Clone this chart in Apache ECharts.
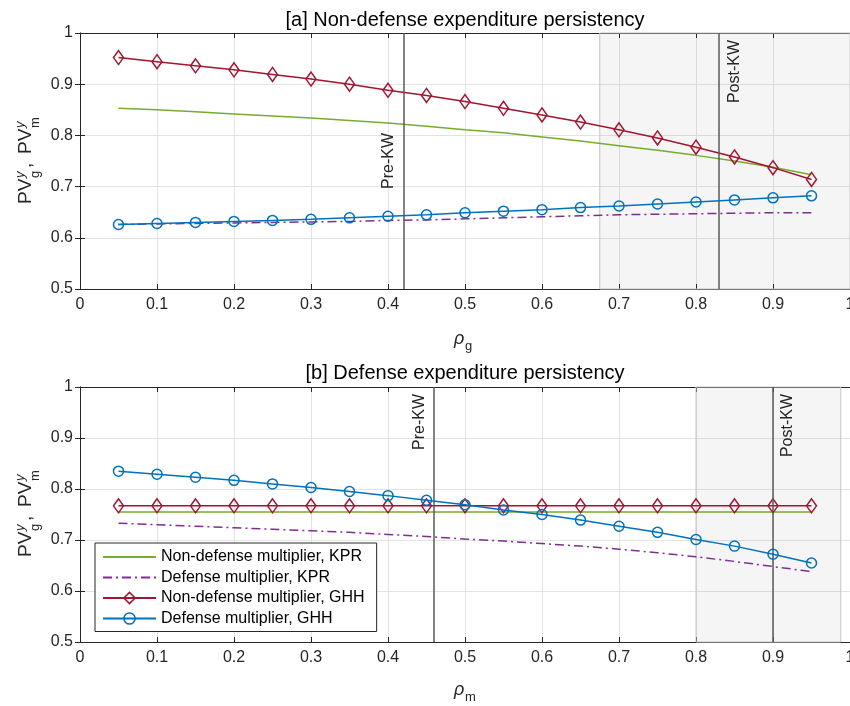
<!DOCTYPE html>
<html lang="en">
<head>
<meta charset="UTF-8">
<title>Expenditure persistency</title>
<script src="https://cdn.jsdelivr.net/npm/echarts@6/dist/echarts.min.js"></script>
<style>
    html, body { margin: 0; padding: 0; background: #fff; }
    #chart { width: 850px; height: 706px; }
</style>
</head>
<body>
<div id="chart"></div>
<script>
    // persistency grid (rho)
    var rho = [0.05, 0.1, 0.15, 0.2, 0.25, 0.3, 0.35, 0.4, 0.45, 0.5,
               0.55, 0.6, 0.65, 0.7, 0.75, 0.8, 0.85, 0.9, 0.95];

    // [a] non-defense expenditure persistency
    var aNonDefKPR = [0.853, 0.850, 0.846, 0.842, 0.838, 0.834, 0.829, 0.824, 0.818, 0.811,
                      0.805, 0.797, 0.789, 0.780, 0.771, 0.761, 0.750, 0.738, 0.723];
    var aDefKPR    = [0.626, 0.627, 0.628, 0.629, 0.630, 0.631, 0.632, 0.634, 0.635, 0.637,
                      0.639, 0.641, 0.643, 0.645, 0.646, 0.647, 0.648, 0.649, 0.649];
    var aNonDefGHH = [0.952, 0.944, 0.936, 0.928, 0.919, 0.910, 0.900, 0.888, 0.878, 0.866,
                      0.853, 0.840, 0.826, 0.811, 0.795, 0.777, 0.758, 0.737, 0.714];
    var aDefGHH    = [0.626, 0.628, 0.630, 0.632, 0.634, 0.636, 0.639, 0.642, 0.645, 0.649,
                      0.652, 0.655, 0.659, 0.662, 0.666, 0.670, 0.674, 0.678, 0.682];

    // [b] defense expenditure persistency
    var bNonDefKPR = [0.755, 0.755, 0.755, 0.755, 0.755, 0.755, 0.755, 0.755, 0.755, 0.755,
                      0.755, 0.755, 0.755, 0.755, 0.755, 0.755, 0.755, 0.755, 0.755];
    var bDefKPR    = [0.733, 0.730, 0.727, 0.724, 0.721, 0.718, 0.715, 0.711, 0.707, 0.702,
                      0.698, 0.693, 0.688, 0.682, 0.675, 0.667, 0.658, 0.648, 0.638];
    var bNonDefGHH = [0.767, 0.767, 0.767, 0.767, 0.767, 0.767, 0.767, 0.767, 0.767, 0.767,
                      0.767, 0.767, 0.767, 0.767, 0.767, 0.767, 0.767, 0.767, 0.767];
    var bDefGHH    = [0.835, 0.829, 0.823, 0.817, 0.810, 0.803, 0.795, 0.787, 0.778, 0.769,
                      0.759, 0.750, 0.739, 0.727, 0.715, 0.701, 0.688, 0.672, 0.655];

    // Korean-war episode markers and shaded ranges
    var aPreKW = 0.425, aPostKW = 0.828, aShade = [0.675, 1.0];
    var bPreKW = 0.457, bPostKW = 0.900, bShade = [0.80, 0.988];

    var names = ['Non-defense multiplier, KPR', 'Defense multiplier, KPR',
                 'Non-defense multiplier, GHH', 'Defense multiplier, GHH'];

    var FONT = '"Liberation Sans", Arial, Helvetica, sans-serif';
    var INK = '#262626';
    var cGreen = '#77ac30', cPurple = '#7e2f8e', cRed = '#a2142f', cBlue = '#0072bd';
    var HOLLOW = 'rgba(255,255,255,0)';

    function pairs(ys) {
        return rho.map(function (x, i) { return [x, ys[i]]; });
    }

    function fmt(v) { return String(+v.toFixed(1)); }

    function xAxes(g) {
        return [{
            type: 'value', gridIndex: g, min: 0, max: 1, interval: 0.1,
            axisLine: { show: true, lineStyle: { color: INK, width: 1 } },
            axisTick: { show: true, inside: true, length: 5, lineStyle: { color: INK } },
            axisLabel: { color: INK, fontSize: 16, fontFamily: FONT, margin: 8, formatter: fmt },
            splitLine: { show: true, lineStyle: { color: '#e3e3e3', width: 1 } }
        }, {
            type: 'value', gridIndex: g, min: 0, max: 1, interval: 0.1, position: 'top',
            axisLine: { show: true, lineStyle: { color: INK, width: 1 } },
            axisTick: { show: true, inside: true, length: 5, lineStyle: { color: INK } },
            axisLabel: { show: false },
            splitLine: { show: false }
        }];
    }

    function yAxes(g) {
        return [{
            type: 'value', gridIndex: g, min: 0.5, max: 1, interval: 0.1,
            axisLine: { show: true, lineStyle: { color: INK, width: 1 } },
            axisTick: { show: true, inside: true, length: 5, lineStyle: { color: INK } },
            axisLabel: { color: INK, fontSize: 16, fontFamily: FONT, margin: 7, formatter: fmt },
            splitLine: { show: true, lineStyle: { color: '#e3e3e3', width: 1 } }
        }, {
            type: 'value', gridIndex: g, min: 0.5, max: 1, interval: 0.1, position: 'right',
            axisLine: { show: true, lineStyle: { color: INK, width: 1 } },
            axisTick: { show: true, inside: true, length: 5, lineStyle: { color: INK } },
            axisLabel: { show: false },
            splitLine: { show: false }
        }];
    }

    function kwLine(x, text, pos) {
        return {
            xAxis: x,
            label: {
                show: true, formatter: text, position: pos, distance: 7,
                color: INK, fontSize: 16, fontFamily: FONT
            }
        };
    }

    function panel(g, d, pre, post, shade, posPre, posPost) {
        var ax = g * 2;
        return [{
            name: names[0], type: 'line', xAxisIndex: ax, yAxisIndex: ax,
            data: pairs(d[0]), showSymbol: false, symbol: 'none', z: 3,
            lineStyle: { color: cGreen, width: 1.5 }, itemStyle: { color: cGreen },
            markArea: {
                silent: true,
                itemStyle: { color: 'rgba(0,0,0,0.04)', borderColor: '#c4c4c4', borderWidth: 1 },
                data: [[{ xAxis: shade[0] }, { xAxis: shade[1] }]]
            },
            markLine: {
                silent: true, symbol: 'none',
                lineStyle: { color: '#5a5a5a', width: 1.5, type: 'solid' },
                data: [kwLine(pre, 'Pre-KW', posPre), kwLine(post, 'Post-KW', posPost)]
            }
        }, {
            name: names[1], type: 'line', xAxisIndex: ax, yAxisIndex: ax,
            data: pairs(d[1]), showSymbol: false, symbol: 'none', z: 3,
            lineStyle: { color: cPurple, width: 1.5, type: [9, 4, 2, 4] }, itemStyle: { color: cPurple }
        }, {
            name: names[2], type: 'line', xAxisIndex: ax, yAxisIndex: ax,
            data: pairs(d[2]), symbol: 'diamond', symbolSize: [10, 14], z: 4,
            lineStyle: { color: cRed, width: 1.5 },
            itemStyle: { color: HOLLOW, borderColor: cRed, borderWidth: 1.5 }
        }, {
            name: names[3], type: 'line', xAxisIndex: ax, yAxisIndex: ax,
            data: pairs(d[3]), symbol: 'circle', symbolSize: 10, z: 5,
            lineStyle: { color: cBlue, width: 1.5 },
            itemStyle: { color: HOLLOW, borderColor: cBlue, borderWidth: 1.5 }
        }];
    }

    function yLabel(cy) {
        var big = { fontSize: 19, fontFamily: FONT, fill: INK, verticalAlign: 'middle', align: 'left' };
        var small = { fontSize: 13, fontFamily: FONT, fill: INK, verticalAlign: 'middle', align: 'left' };
        function t(text, x, y, st, italic) {
            return { type: 'text', x: x, y: y,
                     style: Object.assign({ text: text, fontStyle: italic ? 'italic' : 'normal' }, st) };
        }
        return {
            type: 'group', x: 25, y: cy, rotation: Math.PI / 2,
            children: [
                t('PV', -43, 1, big), t('y', -17, -5, small, true), t('g', -17, 10, small),
                t(',', -7, 1, big), t('PV', 7, 1, big), t('y', 33, -5, small, true), t('m', 33, 10, small)
            ]
        };
    }

    function xLabel(y, sub) {
        return {
            type: 'group',
            children: [
                { type: 'text', x: 454, y: y,
                  style: { text: 'ρ', fontSize: 18, fontFamily: FONT, fontStyle: 'italic',
                           fill: INK, verticalAlign: 'middle' } },
                { type: 'text', x: 465, y: y + 7,
                  style: { text: sub, fontSize: 13, fontFamily: FONT, fill: INK, verticalAlign: 'middle' } }
            ]
        };
    }

    function title(text, y) {
        return { type: 'text', x: 465, y: y,
                 style: { text: text, fontSize: 20, fontFamily: FONT, fill: '#000',
                          align: 'center', verticalAlign: 'middle' } };
    }

    var chart = echarts.init(document.getElementById('chart'), null, { renderer: 'canvas' });

    var option = {
        backgroundColor: '#fff',
        animation: false,
        grid: [
            { left: 80, right: 0, top: 33, height: 256, outerBoundsMode: 'none', containLabel: false },
            { left: 80, right: 0, top: 387, height: 255, outerBoundsMode: 'none', containLabel: false }
        ],
        xAxis: xAxes(0).concat(xAxes(1)),
        yAxis: yAxes(0).concat(yAxes(1)),
        legend: {
            data: [
                { name: names[0], itemStyle: { opacity: 0 } },
                { name: names[1], itemStyle: { opacity: 0 } },
                { name: names[2], itemStyle: { color: HOLLOW, borderColor: cRed, borderWidth: 1.5 } },
                { name: names[3], itemStyle: { color: HOLLOW, borderColor: cBlue, borderWidth: 1.5 } }
            ],
            orient: 'vertical', left: 95, top: 543,
            backgroundColor: '#fff', borderColor: INK, borderWidth: 1,
            padding: [5, 12, 4, 7], itemGap: 2.5, itemWidth: 53, itemHeight: 14,
            textStyle: { color: '#000', fontSize: 16, fontFamily: FONT, lineHeight: 18 },
            z: 10
        },
        graphic: [
            title('[a] Non-defense expenditure persistency', 20),
            title('[b] Defense expenditure persistency', 373),
            yLabel(161), yLabel(514),
            xLabel(339, 'g'), xLabel(690, 'm')
        ],
        series: panel(0, [aNonDefKPR, aDefKPR, aNonDefGHH, aDefGHH],
                      aPreKW, aPostKW, aShade, 'insideMiddleTop', 'insideEndBottom')
            .concat(panel(1, [bNonDefKPR, bDefKPR, bNonDefGHH, bDefGHH],
                      bPreKW, bPostKW, bShade, 'insideEndTop', 'insideEndBottom'))
    };

    chart.setOption(option);
</script>
</body>
</html>
